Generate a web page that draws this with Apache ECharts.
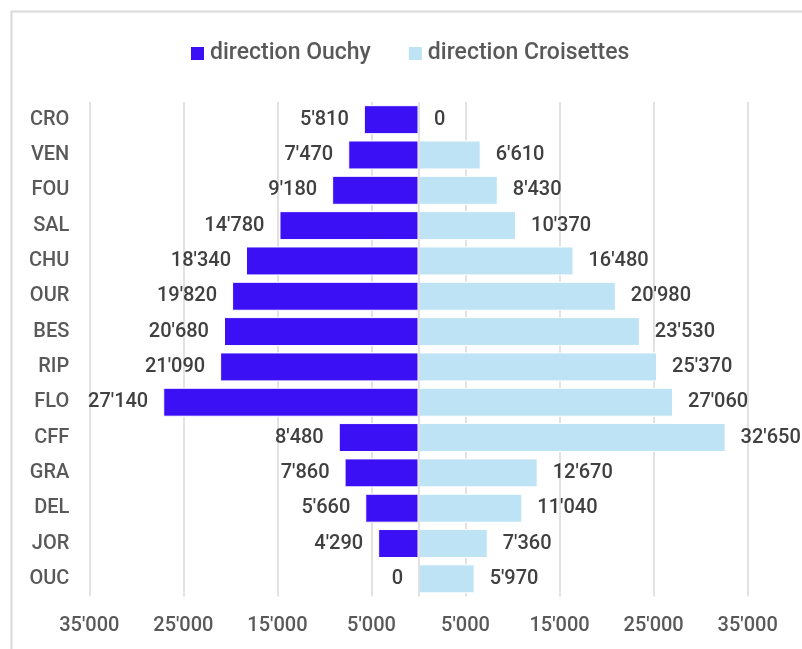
<!DOCTYPE html>
<html>
<head>
<meta charset="utf-8">
<script src="https://cdn.jsdelivr.net/npm/echarts@6/dist/echarts.min.js"></script>
<style>
  html, body { margin: 0; padding: 0; background: #fff; }
  #chart { width: 802px; height: 649px; }
</style>
</head>
<body>
<div id="chart"></div>
<script>
const categories = ['CRO', 'VEN', 'FOU', 'SAL', 'CHU', 'OUR', 'BES', 'RIP', 'FLO', 'CFF', 'GRA', 'DEL', 'JOR', 'OUC'];
const ouchy = [5810, 7470, 9180, 14780, 18340, 19820, 20680, 21090, 27140, 8480, 7860, 5660, 4290, 0];
const croisettes = [0, 6610, 8430, 10370, 16480, 20980, 23530, 25370, 27060, 32650, 12670, 11040, 7360, 5970];
const seriesNames = ['direction Ouchy', 'direction Croisettes'];
const axisMin = -35000, axisMax = 35000, axisStep = 10000;

function fmt(v) {
  const s = String(Math.round(Math.abs(v)));
  return s.replace(/\B(?=(\d{3})+(?!\d))/g, "'");
}

const FONT = 'Roboto';
const chart = echarts.init(document.getElementById('chart'), null, { renderer: 'canvas' });
chart.setOption({
  animation: false,
  backgroundColor: '#fff',
  graphic: [{
    type: 'rect', silent: true, z: -1,
    shape: { x: 11.5, y: 11.5, width: 900, height: 900 },
    style: { fill: 'none', stroke: '#D9D9D9', lineWidth: 2 }
  }],
  legend: {
    left: 184, top: 37,
    itemWidth: 15, itemHeight: 15, itemGap: 36,
    icon: 'rect',
    textStyle: { fontFamily: FONT, fontSize: 23, fontWeight: 500, color: '#595959', padding: [0, 0, 0, 0] },
    data: seriesNames
  },
  grid: { left: 89.3, right: 54.3, top: 102, bottom: 52.5, containLabel: false },
  xAxis: {
    type: 'value', min: axisMin, max: axisMax, interval: axisStep,
    axisLine: { show: false }, axisTick: { show: false },
    splitLine: { show: true, lineStyle: { color: '#D9D9D9', width: 1.5 } },
    axisLabel: { formatter: fmt, fontFamily: FONT, fontSize: 20, fontWeight: 500, color: '#595959', margin: 19 }
  },
  yAxis: {
    type: 'category', inverse: true, data: categories,
    axisLine: { show: false }, axisTick: { show: false },
    axisLabel: { fontFamily: FONT, fontSize: 20, fontWeight: 500, color: '#595959', margin: 20 }
  },
  series: [
    {
      name: seriesNames[0], type: 'bar', barGap: '-100%', barCategoryGap: '18%',
      data: ouchy.map(v => -v),
      itemStyle: { color: '#3B10F5', borderColor: '#ffffff', borderWidth: 1 },
      label: { show: true, position: 'left', distance: 15, formatter: p => fmt(p.value),
               fontFamily: FONT, fontSize: 20, fontWeight: 500, color: '#404040' },
      markLine: {
        silent: true, symbol: 'none', label: { show: false },
        lineStyle: { color: '#D9D9D9', width: 1.5, type: 'solid' },
        data: [{ xAxis: 0 }]
      }
    },
    {
      name: seriesNames[1], type: 'bar', barGap: '-100%', barCategoryGap: '18%',
      data: croisettes,
      itemStyle: { color: '#BDE3F5', borderColor: '#ffffff', borderWidth: 1 },
      label: { show: true, position: 'right', distance: 15, formatter: p => fmt(p.value),
               fontFamily: FONT, fontSize: 20, fontWeight: 500, color: '#404040' }
    }
  ]
});
</script>
</body>
</html>
